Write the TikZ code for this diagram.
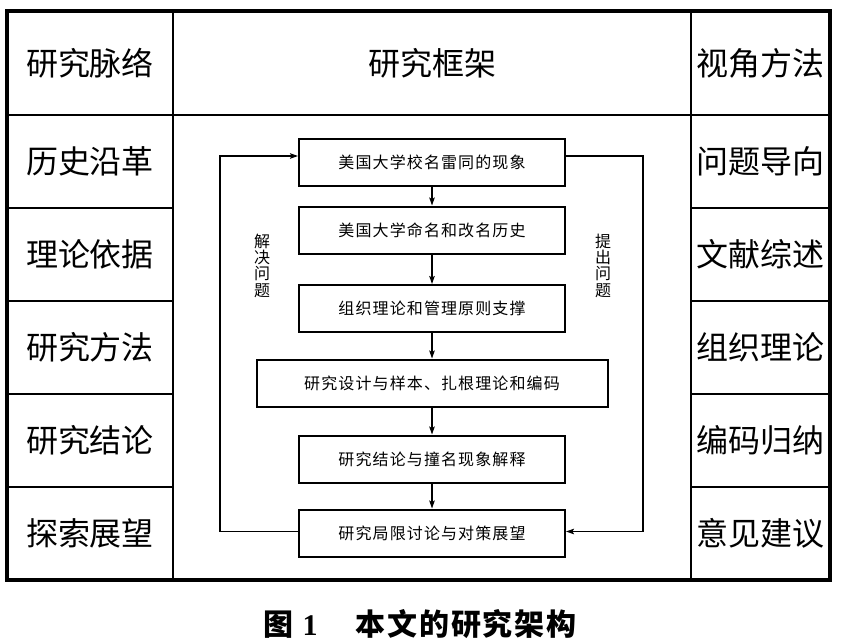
\documentclass[tikz,border=0pt]{standalone}
\usepackage{fontspec}
\setmainfont{Liberation Serif}
\newfontfamily\cjk{Noto Sans CJK SC}
\usetikzlibrary{arrows.meta}
\begin{document}
\begin{tikzpicture}[x=1pt,y=-1pt,
  big/.style={font=\cjk\fontsize{32}{32}\selectfont, inner sep=0pt},
  flow/.style={draw, line width=2pt, minimum height=47pt, minimum width=266pt, inner sep=0pt,
    font=\cjk\fontsize{16}{16}\selectfont\addfontfeature{LetterSpace=7}},
  vlab/.style={font=\cjk\fontsize{16}{16.3}\selectfont, align=center, inner sep=0pt},
  conn/.style={line width=1.4pt, -{Stealth[length=8pt,width=5.5pt,inset=1.5pt]}},
  grid/.style={line width=2pt},
]
\useasboundingbox (0,0) rectangle (846,643);
% table grid
\draw[grid] (173,11) -- (173,580) (691,11) -- (691,580) (7,115) -- (830,115);
\foreach \y in {208,301,394,487} { \draw[grid] (7,\y) -- (173,\y) (691,\y) -- (830,\y); }
\draw[line width=3.5pt] (7,11) rectangle (830,580);
% left column
\node[big] (l1) at (90,63) {研究脉络};
\node[big] (l2) at (90,161.5) {历史沿革};
\node[big] (l3) at (90,254.5) {理论依据};
\node[big] (l4) at (90,347.5) {研究方法};
\node[big] (l5) at (90,440.5) {研究结论};
\node[big] (l6) at (90,533.5) {探索展望};
% right column
\node[big] (r1) at (760.5,63) {视角方法};
\node[big] (r2) at (760.5,161.5) {问题导向};
\node[big] (r3) at (760.5,254.5) {文献综述};
\node[big] (r4) at (760.5,347.5) {组织理论};
\node[big] (r5) at (760.5,440.5) {编码归纳};
\node[big] (r6) at (760.5,533.5) {意见建议};
% header
\node[big] (hd) at (432,63) {研究框架};
% flow boxes
\node[flow] (b1) at (432,162.5) {美国大学校名雷同的现象};
\node[flow] (b2) at (432,230) {美国大学命名和改名历史};
\node[flow] (b3) at (432,308.5) {组织理论和管理原则支撑};
\node[flow, minimum width=351pt] (b4) at (432,383) {研究设计与样本、扎根理论和编码};
\node[flow] (b5) at (432,459) {研究结论与撞名现象解释};
\node[flow] (b6) at (432,533) {研究局限讨论与对策展望};
\draw[conn] (b1) -- (b2);
\draw[conn] (b2) -- (b3);
\draw[conn] (b3) -- (b4);
\draw[conn] (b4) -- (b5);
\draw[conn] (b5) -- (b6);
\draw[conn] ([yshift=1.5pt]b6.west) -- ++(-78,0) |- ([yshift=6.5pt]b1.west);
\draw[conn] ([yshift=6.5pt]b1.east) -- ++(77,0) |- ([yshift=1.5pt]b6.east);
% side labels
\node[vlab] (sl) at (262,265.5) {解\\决\\问\\题};
\node[vlab] (sr) at (603,265.5) {提\\出\\问\\题};
% caption
\node[inner sep=0pt, font=\fontsize{30}{30}\selectfont] (cap) at (420,624)
  {{\cjk\bfseries 图}\hspace{9pt}{\bfseries 1}\hspace{38pt}{\cjk\bfseries\addfontfeature{LetterSpace=6}本文的研究架构}};
\end{tikzpicture}
\end{document}
